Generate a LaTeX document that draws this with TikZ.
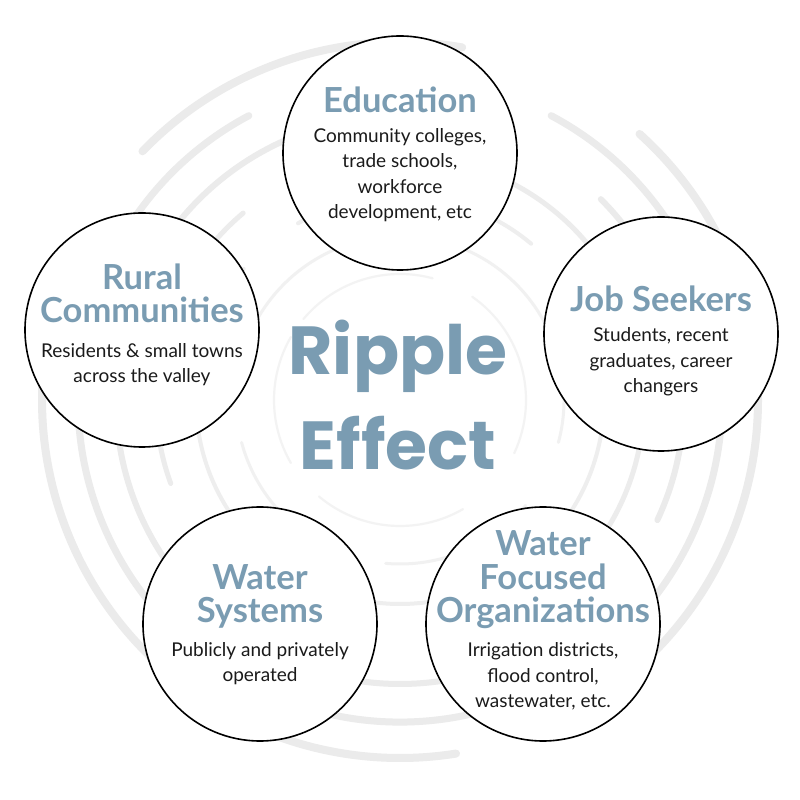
\documentclass[tikz,border=0pt]{standalone}
\usepackage{fontspec}
\setmainfont{Lato}
\newfontfamily\rippleface{Poppins}
\usepackage{xcolor}
\usetikzlibrary{calc}
\definecolor{rippleBlue}{HTML}{7A9CB2}
\definecolor{ringGray}{HTML}{EBEBEB}
\definecolor{blurbInk}{HTML}{1A1A1A}

\begin{document}
\begin{tikzpicture}[x=1pt, y=1pt, line cap=round,
    bubble/.style={circle, draw=black, line width=1.6pt, fill=white, minimum size=234pt, inner sep=0pt},
    head/.style={anchor=base, align=center, inner sep=0pt, text=rippleBlue, font=\fontsize{34.5}{33.5}\selectfont\bfseries},
    blurb/.style={anchor=base, align=center, inner sep=0pt, text=blurbInk, font=\fontsize{19}{25.5}\selectfont},
    ring/.style 2 args={draw=ringGray!#2, line width=#1pt}]
  \fill[white] (0,0) rectangle (800,800);
  \useasboundingbox (0,0) rectangle (800,800);
  \coordinate (hub) at (400,400);
  % broken ripple rings: radius / width / from / to / strength
  \foreach \r/\w/\a/\b/\p in {358/8/80/136/100, 358/8/-45/48/100, 358/8/175/279/100,
      322/7/-110/62/100, 322/7/118/150/100, 322/7/170/240/100,
      284/6/-125/-55/100, 284/6/-25/45/100, 284/6/100/160/100, 284/6/185/230/100,
      244/5/-70/-10/95, 244/5/20/85/95, 244/5/130/200/95, 244/5/215/260/95,
      204/4/-50/30/85, 204/4/50/120/85, 204/4/140/215/85, 204/4/235/300/85,
      164/3/-15/70/70, 164/3/95/165/70, 164/3/195/250/70, 164/3/265/320/70,
      126/2.2/-25/55/60, 126/2.2/75/140/60, 126/2.2/150/210/60, 126/2.2/230/300/60}
    \draw[ring={\w}{\p}] ($(hub)+(\a:\r pt)$) arc[start angle=\a, end angle=\b, radius=\r pt];
  \node[text=rippleBlue, anchor=base, inner sep=0pt, font=\fontsize{68}{70}\rippleface\bfseries] (ripple) at (398,425) {Ripple};
  \node[text=rippleBlue, anchor=base, inner sep=0pt, font=\fontsize{68}{70}\rippleface\bfseries] (effect) at (398,330) {Effect};
  \node[bubble] (edu) at (400,647) {};
  \node[head] (eduhead) at ($(edu.center)+(0,40)$) {Education};
  \node[blurb] (edublurb) at ($(edu.center)+(0,-66)$) {Community colleges,\\trade schools,\\workforce\\development, etc};
  \node[bubble] (jobs) at (661,466) {};
  \node[head] (jobshead) at ($(jobs.center)+(0,22)$) {Job Seekers};
  \node[blurb] (jobsblurb) at ($(jobs.center)+(0,-59)$) {Students, recent\\graduates, career\\changers};
  \node[bubble] (rural) at (142,470) {};
  \node[head] (ruralhead) at ($(rural.center)+(0,7)$) {Rural\\Communities};
  \node[blurb] (ruralblurb) at ($(rural.center)+(0,-53)$) {Residents \& small towns\\across the valley};
  \node[bubble] (systems) at (260,176) {};
  \node[head] (systemshead) at ($(systems.center)+(0,1)$) {Water\\Systems};
  \node[blurb] (systemsblurb) at ($(systems.center)+(0,-58)$) {Publicly and privately\\operated};
  \node[bubble] (orgs) at (543,176) {};
  \node[head] (orgshead) at ($(orgs.center)+(0,1)$) {Water\\Focused\\Organizations};
  \node[blurb] (orgsblurb) at ($(orgs.center)+(0,-84)$) {Irrigation districts,\\flood control,\\wastewater, etc.};
\end{tikzpicture}
\end{document}
